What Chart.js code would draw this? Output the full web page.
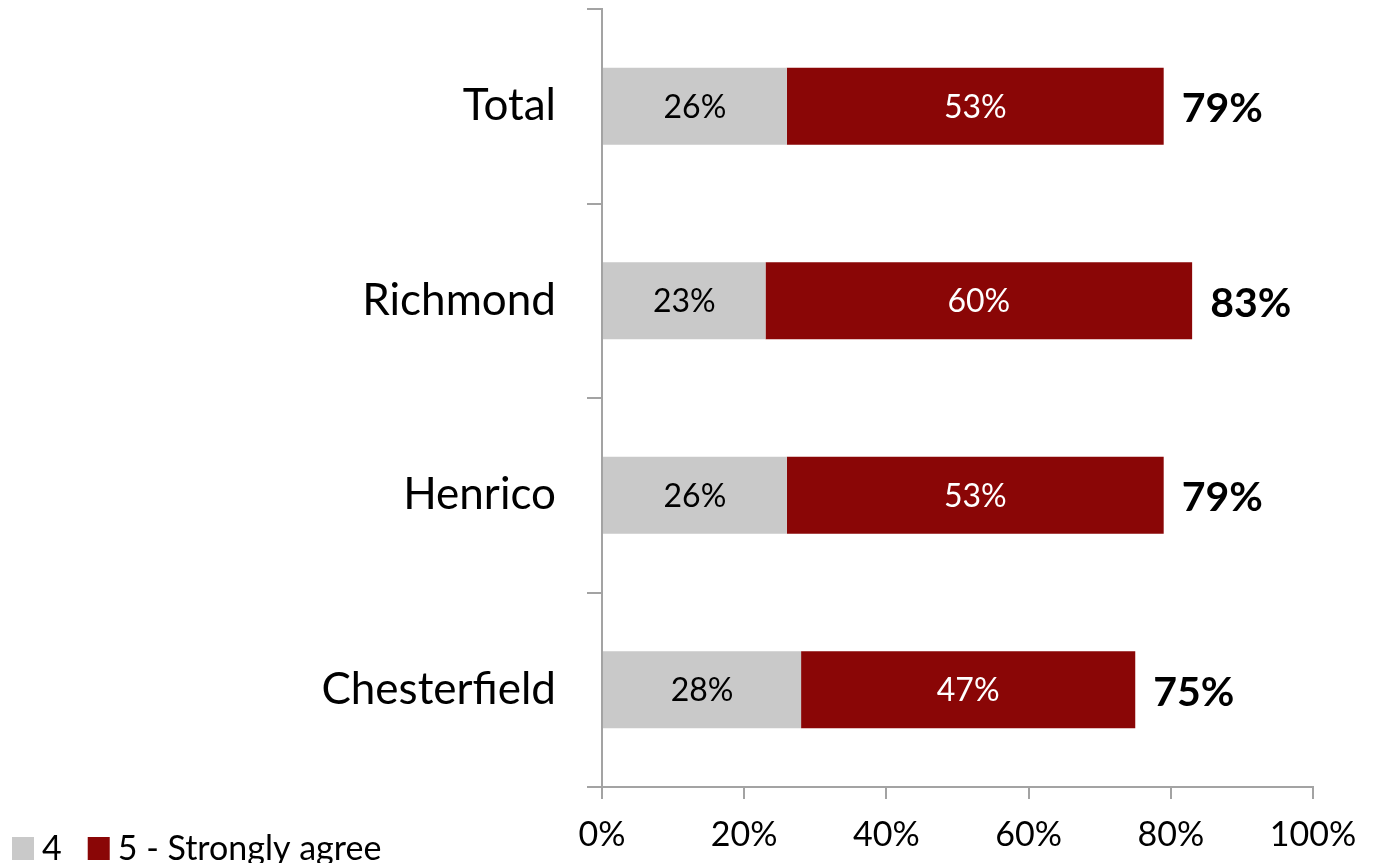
<!DOCTYPE html>
<html>
<head>
<meta charset="utf-8">
<script src="https://cdn.jsdelivr.net/npm/chart.js@4"></script>
<style>
  html, body { margin: 0; padding: 0; background: #ffffff; }
  #wrap { width: 1374px; height: 863px; position: relative; }
</style>
</head>
<body>
<div id="wrap"><canvas id="chart"></canvas></div>
<script>
// Share agreeing, by area
const categories = ['Total', 'Richmond', 'Henrico', 'Chesterfield'];
const agreeValues = [26, 23, 26, 28];          // rating 4
const strongAgreeValues = [53, 60, 53, 47];    // rating 5
const seriesNames = ['4', '5 - Strongly agree'];
const tickValues = [0, 20, 40, 60, 80, 100];

const GREY = '#c9c9c9';
const RED = '#8a0606';
const AXIS = '#a3a3a3';
const FONT = 'Lato, "Open Sans", sans-serif';

// Percent labels inside each segment plus the bold total at the end of each bar
const segmentLabels = {
  id: 'segmentLabels',
  afterDatasetsDraw(chart) {
    const ctx = chart.ctx;
    ctx.save();
    ctx.textBaseline = 'middle';
    ctx.textAlign = 'center';
    ctx.font = '32px ' + FONT;
    chart.data.datasets.forEach((ds, i) => {
      const meta = chart.getDatasetMeta(i);
      meta.data.forEach((bar, j) => {
        const p = bar.getProps(['x', 'y', 'base'], true);
        ctx.fillStyle = i === 0 ? '#000000' : '#ffffff';
        ctx.fillText(ds.data[j] + '%', (p.x + p.base) / 2, p.y + 1);
      });
    });
    const last = chart.getDatasetMeta(chart.data.datasets.length - 1);
    ctx.textAlign = 'left';
    ctx.font = 'bold 41px ' + FONT;
    ctx.fillStyle = '#000000';
    last.data.forEach((bar, j) => {
      const total = chart.data.datasets.reduce((s, ds) => s + ds.data[j], 0);
      const p = bar.getProps(['x', 'y'], true);
      ctx.fillText(total + '%', p.x + 18, p.y + 3);
    });
    ctx.restore();
  }
};

// Legend in the lower-left corner, on the same row as the axis labels
const cornerLegend = {
  id: 'cornerLegend',
  afterDraw(chart) {
    const ctx = chart.ctx;
    ctx.save();
    ctx.font = '34px ' + FONT;
    ctx.textBaseline = 'middle';
    ctx.textAlign = 'left';
    let x = 12;
    const cy = 848;
    chart.data.datasets.forEach((ds) => {
      ctx.fillStyle = ds.backgroundColor;
      ctx.fillRect(x, cy - 11, 22, 23);
      ctx.fillStyle = '#000000';
      ctx.fillText(ds.label, x + 30, cy + 1);
      x += 30 + ctx.measureText(ds.label).width + 26;
    });
    ctx.restore();
  }
};

new Chart(document.getElementById('chart'), {
  type: 'bar',
  data: {
    labels: categories,
    datasets: [
      { label: seriesNames[0], data: agreeValues, backgroundColor: GREY },
      { label: seriesNames[1], data: strongAgreeValues, backgroundColor: RED }
    ]
  },
  options: {
    indexAxis: 'y',
    responsive: true,
    maintainAspectRatio: false,
    animation: false,
    categoryPercentage: 1,
    barPercentage: 0.396,
    layout: { padding: { top: 9, right: 61, left: 0, bottom: 0 } },
    plugins: {
      legend: { display: false },
      tooltip: { enabled: false }
    },
    scales: {
      x: {
        stacked: true,
        min: 0,
        max: 100,
        afterBuildTicks(scale) {
          scale.ticks = tickValues.map(v => ({ value: v }));
        },
        afterFit(scale) {
          scale.height = 76;
          scale.paddingLeft = 0;
          scale.paddingRight = 0;
        },
        border: { display: true, color: AXIS, width: 2 },
        grid: { drawOnChartArea: false, drawTicks: true, tickLength: 12, color: AXIS, lineWidth: 2 },
        ticks: {
          padding: 16,
          color: '#000000',
          font: { family: FONT, size: 34 },
          maxRotation: 0,
          callback: (v) => v + '%'
        }
      },
      y: {
        stacked: true,
        afterFit(scale) {
          scale.width = 602;
          scale.paddingTop = 0;
          scale.paddingBottom = 0;
        },
        border: { display: true, color: AXIS, width: 2 },
        grid: { drawOnChartArea: false, drawTicks: true, tickLength: 15, color: AXIS, lineWidth: 2, offset: true },
        ticks: {
          padding: 31,
          color: '#000000',
          font: { family: FONT, size: 44 }
        }
      }
    }
  },
  plugins: [segmentLabels, cornerLegend]
});
</script>
</body>
</html>
